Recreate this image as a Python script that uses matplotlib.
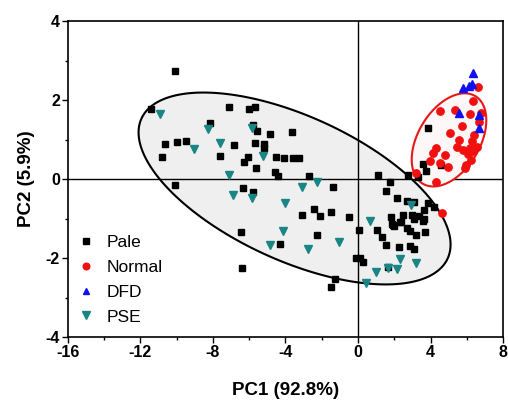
import numpy as np
import matplotlib
matplotlib.use("Agg")
import matplotlib.pyplot as plt
from matplotlib.ticker import MultipleLocator

plt.rcParams['font.family'] = ['Liberation Sans', 'DejaVu Sans']
plt.rcParams['axes.unicode_minus'] = False

# scores (PC1, PC2)
pale_x = [-10.1, -11.39, -7.14, -6.0, -5.67, -8.15, -5.8, -5.58, -4.84, -3.65,
          -10.62, -9.98, -9.5, -6.84, -5.67, -5.17, -5.17, -10.8, -7.6, -6.04,
          -6.26, -4.51, -4.07, -3.56, -3.23, -5.61, -4.57, -4.39, -2.73, -10.1,
          -6.35, -5.8, -1.39, -3.1, -2.42, -2.09, -1.49, -0.5, 0.05, -2.27,
          -4.33, -1.27, -1.49, -6.46, -6.37, 1.75, 1.52, 2.13, 2.71, 3.1,
          3.84, 4.18, 3.65, 1.81, 2.35, 2.48, 2.31, 2.95, 3.1, 3.36,
          3.65, 3.6, 1.03, 1.95, 1.3, 1.85, 2.0, 2.71, 2.86, 3.19,
          3.69, 1.52, 2.26, 2.86, 3.1, -0.13, 0.11, 0.29, 1.67, 1.08,
          2.77, 3.32, 3.6, 3.74, 4.55, 3.84]
pale_y = [2.74, 1.77, 1.83, 1.78, 1.83, 1.43, 1.37, 1.22, 1.14, 1.2,
          0.89, 0.94, 0.97, 0.85, 0.92, 0.89, 0.78, 0.56, 0.58, 0.56,
          0.44, 0.56, 0.53, 0.54, 0.54, 0.27, 0.18, 0.08, 0.08, -0.16,
          -0.22, -0.33, -0.21, -0.91, -0.77, -0.94, -0.83, -0.95, -1.29, -1.42,
          -1.65, -2.54, -2.73, -1.35, -2.25, -0.08, -0.3, -0.47, -0.55, -0.57,
          -0.6, -0.7, -0.78, -0.97, -1.08, -0.9, -1.08, -0.91, -1.0, -0.94,
          -1.0, -1.06, -1.29, -1.16, -1.46, -1.14, -1.19, -1.23, -1.32, -1.42,
          -1.33, -1.67, -1.71, -1.7, -1.78, -1.99, -2.01, -2.09, -2.22, 0.1,
          0.1, 0.06, 0.37, 0.2, 0.36, 1.29]

normal_x = [6.62, 6.31, 4.51, 5.34, 6.16, 6.75, 6.68, 5.74, 5.06, 6.41,
            6.3, 5.58, 5.45, 5.78, 6.16, 6.31, 6.57, 4.29, 4.15, 4.79,
            6.07, 3.96, 4.51, 4.97, 5.94, 5.89, 6.2, 3.17, 4.28, 4.62]
normal_y = [2.32, 1.97, 1.73, 1.75, 1.65, 1.68, 1.45, 1.35, 1.17, 1.11,
            0.95, 0.99, 0.81, 0.74, 0.78, 0.7, 0.8, 0.78, 0.67, 0.61,
            0.63, 0.46, 0.4, 0.31, 0.35, 0.28, 0.48, 0.16, -0.08, -0.85]

dfd_x = [6.31, 5.76, 6.13, 6.26, 5.58, 6.68, 6.68]
dfd_y = [2.68, 2.3, 2.35, 2.4, 1.66, 1.62, 1.3]

pse_x = [-10.93, -8.29, -5.85, -7.6, -9.03, -5.25, -7.14, -3.1, -6.92, -5.85,
         -2.24, -4.02, -4.14, -1.05, -4.85, -2.77, 2.92, 0.66, 2.31, 3.19,
         0.97, 1.67, 2.13, 0.42]
pse_y = [1.64, 1.27, 1.3, 0.9, 0.75, 0.57, 0.1, -0.21, -0.41, -0.47,
         -0.08, -0.6, -1.31, -1.59, -1.68, -1.78, -0.66, -1.06, -2.03, -2.12,
         -2.35, -2.25, -2.29, -2.64]

# confidence ellipses: centre and covariance-like shape matrix
ell_big_c = (-3.5, -0.24)
ell_big_m = [[73.9, -12.2], [-12.2, 5.9]]
ell_red_c = (5.01, 0.99)
ell_red_m = [[4.22, 1.02], [1.02, 1.39]]


def ellipse_xy(c, m, n=200):
    t = np.linspace(0, 2 * np.pi, n)
    L = np.linalg.cholesky(np.array(m))
    pts = L @ np.vstack([np.cos(t), np.sin(t)])
    return c[0] + pts[0], c[1] + pts[1]


fig = plt.figure(figsize=(5.08, 4.01), dpi=100)
ax = fig.add_axes([0.1333, 0.1596, 0.8574, 0.788])

ex, ey = ellipse_xy(ell_big_c, ell_big_m)
ax.fill(ex, ey, facecolor='#efefef', edgecolor='black', lw=1.5, zorder=1)
ax.axhline(0, color='black', lw=1, zorder=2)
ax.axvline(0, color='black', lw=1, zorder=2)
rx, ry = ellipse_xy(ell_red_c, ell_red_m)
ax.fill(rx, ry, facecolor='#fdf7f7', edgecolor='#e81818', lw=1.5, zorder=3)

ax.plot(pale_x, pale_y, 's', color='black', ms=5, ls='none', label='Pale', zorder=4)
ax.plot(normal_x, normal_y, 'o', color='#f01010', ms=5.3, ls='none', label='Normal', zorder=5)
ax.plot(dfd_x, dfd_y, '^', color='#1010ee', ms=5.5, ls='none', label='DFD', zorder=5)
ax.plot(pse_x, pse_y, 'v', color='#1a8585', ms=5.8, ls='none', label='PSE', zorder=4)

ax.set_xlim(-16, 8)
ax.set_ylim(-4, 4)
ax.xaxis.set_major_locator(MultipleLocator(4))
ax.xaxis.set_minor_locator(MultipleLocator(2))
ax.yaxis.set_major_locator(MultipleLocator(2))
ax.yaxis.set_minor_locator(MultipleLocator(1))
ax.tick_params(which='both', direction='out', top=False, right=False, width=1)
ax.tick_params(which='major', length=4, labelsize=11.5, pad=1.5)
ax.tick_params(which='minor', length=2.5)
for lab in ax.get_xticklabels() + ax.get_yticklabels():
    lab.set_fontweight('bold')
for s in ax.spines.values():
    s.set_linewidth(1.2)

ax.set_xlabel('PC1 (92.8%)', fontsize=13.5, fontweight='bold', labelpad=16)
ax.set_ylabel('PC2 (5.9%)', fontsize=13.5, fontweight='bold', labelpad=8)

ax.legend(loc='lower left', bbox_to_anchor=(-0.018, -0.01), frameon=False,
          fontsize=12.5, handlelength=1.2, handletextpad=0.6,
          labelspacing=0.55, markerscale=0.9)

fig.savefig('out.png', dpi=100)
